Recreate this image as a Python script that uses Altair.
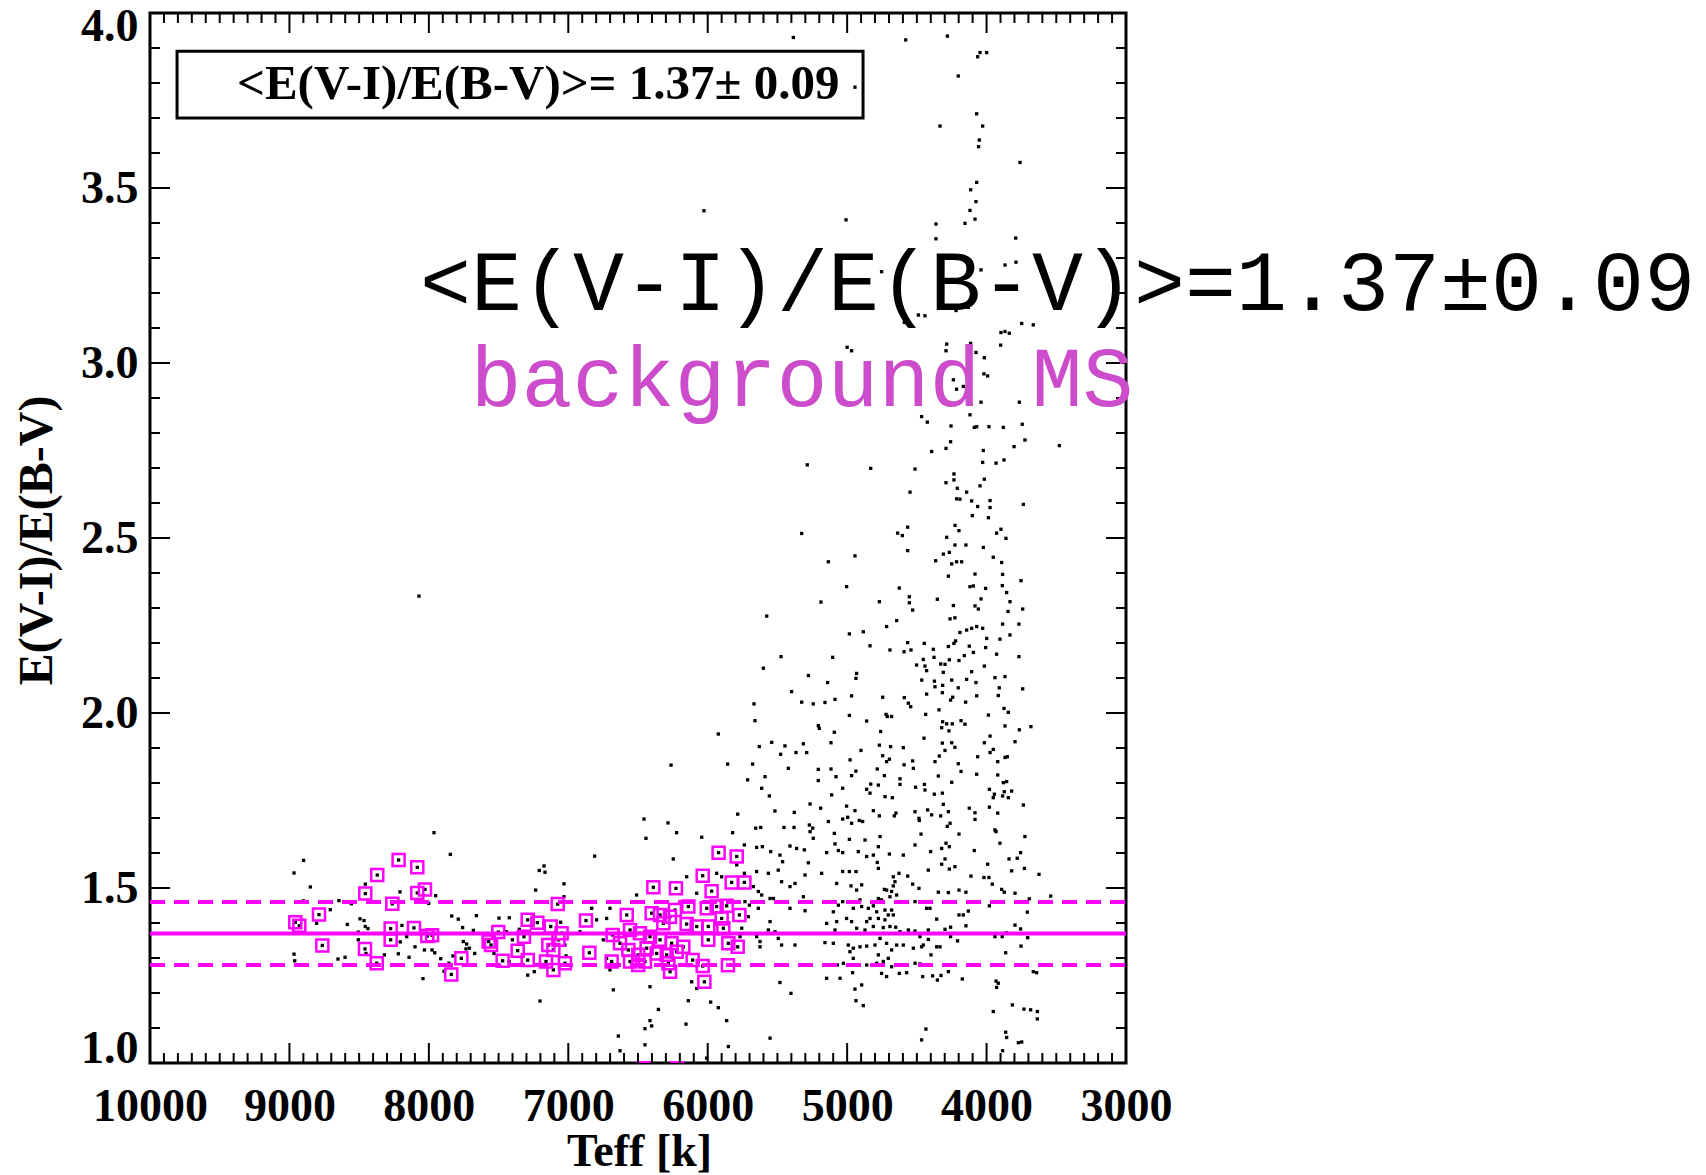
import altair as alt
import pandas as pd

# ---------------- data ----------------
# background MS stars (magenta squares): [Teff, E(V-I)/E(B-V)]
ms_hot = [
    [8958, 1.402], [8929, 1.392], [8788, 1.424], [8764, 1.336], [8456, 1.484], [8370, 1.537],
    [8217, 1.580], [8083, 1.559], [8262, 1.455], [8083, 1.486], [8028, 1.496], [8274, 1.384],
    [8274, 1.352], [8107, 1.386], [8458, 1.326], [8374, 1.285], [8011, 1.363], [7977, 1.365],
    [7839, 1.253], [7767, 1.299], [7571, 1.347], [7554, 1.337], [7502, 1.374], [7471, 1.292],
    [7363, 1.321], [7318, 1.361], [7291, 1.409], [7222, 1.401], [7291, 1.294], [7076, 1.454],
    [7126, 1.390], [7048, 1.371], [7143, 1.337], [7107, 1.323], [7160, 1.290], [7107, 1.266],
    [7024, 1.285], [7071, 1.352],
]
ms_cool = [
    [6873, 1.407], [6849, 1.315], [6689, 1.290], [6682, 1.366], [6581, 1.423], [6390, 1.502],
    [6228, 1.499], [5922, 1.601], [5792, 1.590], [6036, 1.535], [5828, 1.516], [5737, 1.516],
    [5972, 1.491], [6139, 1.447], [6007, 1.442], [5936, 1.447], [5864, 1.449], [5773, 1.423],
    [6402, 1.428], [6342, 1.423], [6271, 1.418], [6235, 1.437], [6318, 1.399], [6151, 1.397],
    [6079, 1.390], [5996, 1.390], [5900, 1.413], [5888, 1.385], [6557, 1.380], [6486, 1.371],
    [6414, 1.361], [6342, 1.352], [6259, 1.342], [6175, 1.332], [5996, 1.352], [5852, 1.342],
    [5785, 1.332], [6629, 1.342], [6569, 1.323], [6498, 1.309], [6438, 1.328], [6366, 1.313],
    [6294, 1.309], [6223, 1.318], [6557, 1.290], [6498, 1.280], [6450, 1.290], [6282, 1.285],
    [6270, 1.261], [6108, 1.294], [6036, 1.277], [5855, 1.279], [6024, 1.232],
    [6462, 0.985], [6218, 0.985],
]

# all other stars (black dots)
stars_hot = [
    [7963, 1.658], [7846, 1.596], [8898, 1.579], [8967, 1.543], [8850, 1.503], [8456, 1.511],
    [8207, 1.489], [7951, 1.478], [8001, 1.456], [8900, 1.463], [8645, 1.464], [8556, 1.455],
    [8707, 1.438], [8805, 1.399], [8585, 1.396], [8494, 1.412], [8465, 1.407], [8456, 1.390],
    [8437, 1.384], [8506, 1.374], [8506, 1.352], [8193, 1.393], [8159, 1.361], [8205, 1.346],
    [8099, 1.332], [8032, 1.323], [7977, 1.323], [7958, 1.315], [8219, 1.312], [8142, 1.302],
    [8319, 1.309], [8451, 1.313], [8967, 1.311], [8962, 1.292], [8652, 1.297], [8601, 1.302],
    [8042, 1.241], [7915, 1.298], [7856, 1.285], [7827, 1.306], [7891, 1.262], [7836, 1.420],
    [7789, 1.411], [7758, 1.387], [7681, 1.379], [7659, 1.421], [7753, 1.347], [7729, 1.340],
    [7710, 1.328], [7734, 1.326], [7671, 1.313], [7497, 1.414], [7423, 1.415], [7444, 1.375],
    [7401, 1.352], [7351, 1.382], [7533, 1.313], [7425, 1.290], [7291, 1.251], [7244, 1.261],
    [7203, 1.177], [7234, 1.494], [7208, 1.550], [7174, 1.563], [7167, 1.545], [7031, 1.512],
    [7031, 1.475], [7055, 1.402], [7024, 1.337], [7016, 1.306], [8071, 2.334],
]
stars_mid = [
    [6443, 1.642], [6223, 1.658], [6043, 1.645], [5821, 1.658], [6811, 1.591], [6247, 1.583],
    [5737, 1.623], [5649, 1.616], [5608, 1.618], [5548, 1.604], [5482, 1.594], [5463, 1.575],
    [5410, 1.620], [5362, 1.613], [5307, 1.609], [5278, 1.572], [5266, 1.661], [5243, 1.642],
    [5147, 1.601], [5092, 1.656], [5087, 1.626], [5063, 1.607], [5032, 1.601], [4984, 1.639],
    [4920, 1.604], [6151, 1.532], [5936, 1.542], [5900, 1.532], [5737, 1.542], [5649, 1.547],
    [5565, 1.542], [5494, 1.551], [5470, 1.518], [5410, 1.504], [5374, 1.513], [5302, 1.537],
    [5183, 1.542], [5075, 1.513], [5032, 1.547], [4984, 1.547], [4936, 1.547], [4972, 1.506],
    [4932, 1.494], [5637, 1.490], [5613, 1.480], [5673, 1.504], [5792, 1.566], [6079, 1.485],
    [6510, 1.480], [5733, 1.461], [5637, 1.442], [5553, 1.470], [5529, 1.470], [5410, 1.442],
    [5314, 1.475], [5302, 1.435], [5099, 1.432], [5063, 1.451], [5032, 1.461], [4956, 1.442],
    [4908, 1.466], [5075, 1.404], [5004, 1.413], [4968, 1.404], [4932, 1.385], [5147, 1.399],
    [5087, 1.380], [5553, 1.404], [5565, 1.380], [5517, 1.375], [5649, 1.361], [5625, 1.347],
    [5494, 1.356], [5470, 1.337], [5374, 1.337], [5625, 1.332], [5159, 1.344], [5099, 1.342],
    [4992, 1.337], [4956, 1.328], [4908, 1.332], [4980, 1.318], [4956, 1.299], [5070, 1.280],
    [5027, 1.285], [4961, 1.258], [5147, 1.242], [5051, 1.242], [5482, 1.230], [5403, 1.199],
    [4944, 1.211], [4937, 1.178], [5768, 1.361], [5756, 1.385], [5709, 1.418], [5701, 1.451],
    [6832, 1.442], [6725, 1.413], [6701, 1.442], [6797, 1.409], [6916, 1.375], [6749, 1.352],
    [6725, 1.299], [6701, 1.266], [6677, 1.209], [6414, 1.218], [6354, 1.153], [6139, 1.178],
    [5979, 1.174], [5924, 1.158], [5864, 1.121], [6156, 1.111], [6414, 1.121], [6402, 1.106],
    [6450, 1.098], [6641, 1.077], [6629, 1.035], [6450, 1.052], [5553, 1.071], [5852, 1.047],
    [6008, 1.014], [6115, 1.232], [6079, 1.213], [6263, 1.851], [6457, 1.697], [6285, 1.686],
]
stars_cool = [
    [4872, 1.637], [4764, 1.647], [4860, 1.590], [4812, 1.594], [4784, 1.573], [4776, 1.556],
    [4776, 1.618], [4697, 1.597], [4597, 1.594], [4513, 1.623], [4470, 1.654], [4401, 1.604],
    [4322, 1.613], [4291, 1.628], [4267, 1.618], [4298, 1.583], [4322, 1.568], [4267, 1.554],
    [4227, 1.561], [4198, 1.654], [4088, 1.607], [3992, 1.568], [3932, 1.661], [3904, 1.628],
    [3839, 1.583], [3780, 1.585], [3756, 1.601], [3725, 1.647], [3729, 1.556], [3624, 1.539],
    [3820, 1.549], [4418, 1.551], [4669, 1.532], [4628, 1.542], [4566, 1.534], [4657, 1.518],
    [4530, 1.511], [4485, 1.499], [4669, 1.506], [4681, 1.490], [4645, 1.480], [4717, 1.494],
    [4733, 1.496], [4896, 1.509], [4776, 1.470], [4753, 1.466], [4693, 1.475], [4597, 1.461],
    [4513, 1.461], [4406, 1.442], [4430, 1.442], [4346, 1.488], [4274, 1.487], [4198, 1.494],
    [4148, 1.488], [4019, 1.530], [3983, 1.530], [3959, 1.511], [4112, 1.534], [3892, 1.496],
    [3873, 1.488], [3796, 1.485], [3694, 1.469], [3540, 1.477], [4896, 1.447], [4848, 1.442],
    [4812, 1.449], [4788, 1.432], [4729, 1.437], [4681, 1.437], [4705, 1.423], [4776, 1.413],
    [4729, 1.409], [4669, 1.423], [4860, 1.404], [4836, 1.413], [4812, 1.390], [4872, 1.380],
    [4741, 1.387], [4693, 1.390], [4652, 1.388], [4621, 1.375], [4561, 1.380], [4513, 1.377],
    [4478, 1.361], [4418, 1.380], [4358, 1.411], [4298, 1.382], [4258, 1.388], [4198, 1.423],
    [4167, 1.423], [4131, 1.434], [4148, 1.392], [4258, 1.361], [4208, 1.349], [4418, 1.353],
    [4454, 1.337], [4525, 1.328], [4597, 1.337], [4645, 1.337], [4681, 1.323], [4717, 1.342],
    [4764, 1.356], [4800, 1.337], [4860, 1.334], [4776, 1.309], [4705, 1.299], [4741, 1.290],
    [4788, 1.285], [4860, 1.280], [4681, 1.275], [4753, 1.256], [4717, 1.247], [4626, 1.256],
    [4573, 1.258], [4513, 1.285], [4478, 1.283], [4466, 1.332], [4399, 1.309], [4358, 1.332],
    [4334, 1.332], [4458, 1.247], [4387, 1.249], [4353, 1.237], [4327, 1.250], [4274, 1.261],
    [4174, 1.240], [4896, 1.223], [4884, 1.164], [3940, 1.361], [3888, 1.361], [3856, 1.372],
    [3863, 1.315], [3796, 1.394], [3756, 1.383], [3705, 1.358], [3753, 1.334], [3712, 1.280],
    [3665, 1.261], [3641, 1.258], [3980, 1.449], [3708, 1.431], [3932, 1.234], [3916, 1.228],
    [3928, 1.216], [3952, 1.147], [3815, 1.166], [3732, 1.154], [3684, 1.152], [3636, 1.147],
    [3636, 1.126], [4466, 1.066], [4435, 1.097], [3863, 1.088], [3856, 1.073], [3772, 1.058],
    [3748, 1.060], [3885, 1.035],
]
giants_low = [
    [5135, 2.432], [4365, 2.435], [4250, 2.426], [4215, 2.432], [4179, 2.432], [3892, 2.430],
    [4274, 2.391], [4083, 2.397], [3885, 2.396], [3753, 2.378], [5004, 2.361], [4626, 2.357],
    [4119, 2.361], [4095, 2.363], [4007, 2.356], [3887, 2.364], [3856, 2.344], [4554, 2.332],
    [4554, 2.315], [4353, 2.325], [4040, 2.326], [3832, 2.318], [5188, 2.317], [4769, 2.318],
    [4530, 2.294], [4238, 2.307], [4083, 2.306], [4059, 2.297], [3846, 2.290], [3741, 2.297],
    [5577, 2.277], [4262, 2.269], [4227, 2.272], [4645, 2.264], [3885, 2.254], [3768, 2.254],
    [4717, 2.247], [4984, 2.226], [4884, 2.232], [4191, 2.230], [4143, 2.237], [4107, 2.242],
    [4071, 2.247], [4028, 2.242], [3999, 2.213], [3904, 2.211], [3832, 2.223], [4836, 2.192],
    [4693, 2.180], [4592, 2.175], [4542, 2.180], [4566, 2.201], [4447, 2.199], [4382, 2.182],
    [4274, 2.190], [4234, 2.199], [4222, 2.206], [4124, 2.191], [4095, 2.173], [4007, 2.187],
    [3928, 2.168], [3768, 2.161], [5474, 2.161], [5104, 2.159], [4454, 2.153], [4377, 2.159],
    [4329, 2.140], [4298, 2.139], [4267, 2.152], [4198, 2.150], [4160, 2.164], [4502, 2.137],
    [4442, 2.134], [4430, 2.121], [4016, 2.134], [5601, 2.128], [5278, 2.107], [4932, 2.113],
    [4937, 2.099], [4310, 2.116], [4107, 2.118], [4465, 2.094], [4374, 2.091], [4370, 2.075],
    [4315, 2.079], [4250, 2.094], [4203, 2.072], [4143, 2.096], [4076, 2.087], [3940, 2.101],
    [3868, 2.104], [3909, 2.072], [3741, 2.069], [5140, 2.087], [5398, 2.061], [5326, 2.031],
    [5243, 2.026], [5159, 2.030], [5087, 2.039], [4968, 2.049], [4745, 2.045], [4590, 2.044],
    [4561, 2.028], [4544, 2.018], [4430, 2.054], [4317, 2.058], [4258, 2.037], [4243, 2.045],
    [4150, 2.031], [4071, 2.049], [3916, 2.050], [5668, 2.026], [5661, 1.978], [5924, 1.940],
    [5207, 1.964], [5200, 1.956], [5092, 1.945], [4984, 1.993], [4860, 1.977], [4721, 1.996],
    [4712, 1.990], [4681, 1.990], [4437, 1.996], [4341, 2.009], [4315, 1.975], [4286, 1.969],
    [4246, 1.969], [4270, 1.949], [4322, 1.958], [4183, 1.978], [4155, 1.968], [3987, 1.994],
    [3875, 2.013], [3844, 2.002], [3868, 1.963], [3765, 1.952], [3682, 1.961], [4760, 1.947],
    [5630, 1.904], [5541, 1.916], [5446, 1.906], [5477, 1.882], [5367, 1.887], [5314, 1.912],
    [5290, 1.887], [5116, 1.915], [4901, 1.893], [4769, 1.908], [4688, 1.904], [4597, 1.901],
    [4745, 1.878], [4697, 1.868], [4717, 1.861], [4592, 1.852], [4530, 1.863], [4525, 1.842],
    [4449, 1.928], [4317, 1.914], [4298, 1.893], [4250, 1.915], [4227, 1.902], [4339, 1.877],
    [4370, 1.861], [4203, 1.855], [4016, 1.915], [3975, 1.934], [4064, 1.875], [3952, 1.896],
    [3975, 1.887], [3920, 1.861], [3868, 1.873], [3851, 1.875], [3796, 1.918], [5857, 1.854],
    [5678, 1.854], [5589, 1.818], [5714, 1.809], [5613, 1.785], [5558, 1.763], [5422, 1.842],
    [5207, 1.839], [5116, 1.840], [5080, 1.818], [5207, 1.807], [4979, 1.866], [4968, 1.821],
    [4937, 1.834], [5032, 1.785], [5111, 1.766], [4784, 1.840], [4733, 1.821], [4860, 1.782],
    [4836, 1.771], [4831, 1.797], [4776, 1.794], [4728, 1.761], [4676, 1.758], [4621, 1.812],
    [4621, 1.796], [4509, 1.788], [4446, 1.796], [4442, 1.780], [4375, 1.768], [4317, 1.771],
    [4346, 1.820], [4250, 1.802], [4183, 1.833], [4071, 1.825], [3920, 1.823], [3980, 1.782],
    [3944, 1.768], [3952, 1.758], [3880, 1.801], [3856, 1.804], [3873, 1.775], [3885, 1.763],
    [3844, 1.758], [3820, 1.777], [3736, 1.737], [5785, 1.711], [5656, 1.671], [5620, 1.673],
    [5518, 1.720], [5379, 1.716], [5453, 1.673], [5381, 1.673], [5266, 1.740], [5190, 1.728],
    [5271, 1.680], [5247, 1.671], [5135, 1.690], [5032, 1.697], [5004, 1.734], [4996, 1.702],
    [4968, 1.685], [4944, 1.721], [4913, 1.693], [4889, 1.690], [4812, 1.721], [4769, 1.706],
    [4662, 1.706], [4650, 1.714], [4513, 1.718], [4485, 1.699], [4482, 1.693], [4423, 1.723],
    [4394, 1.709], [4329, 1.706], [4274, 1.718], [4310, 1.739], [4282, 1.676], [4262, 1.685],
    [4124, 1.728], [4083, 1.715], [4083, 1.696], [3980, 1.731], [3920, 1.714], [3940, 1.666],
]
giants_high = [
    [4590, 3.116], [4489, 3.137], [4442, 3.135], [4219, 3.150], [4172, 3.159], [4131, 3.159],
    [4968, 3.035], [4286, 3.054], [4291, 3.035], [4114, 3.056], [4076, 3.030], [4016, 3.015],
    [3897, 3.087], [3868, 3.090], [3837, 3.085], [3899, 3.051], [3748, 3.113], [3665, 3.109],
    [4019, 2.969], [3992, 2.963], [4238, 2.952], [4215, 2.925], [4167, 2.933], [4040, 2.888],
    [3765, 2.888], [4119, 2.852], [4466, 2.847], [4425, 2.831], [4255, 2.820], [4088, 2.816],
    [4071, 2.818], [3983, 2.818], [3880, 2.816], [3744, 2.825], [3725, 2.780], [3803, 2.761],
    [3478, 2.764], [4258, 2.775], [4291, 2.756], [4394, 2.747], [4023, 2.750], [4028, 2.716],
    [3932, 2.714], [3875, 2.723], [4831, 2.699], [4513, 2.697], [4234, 2.683], [4234, 2.666],
    [4291, 2.658], [4016, 2.668], [4047, 2.649], [4210, 2.642], [4143, 2.631], [4549, 2.631],
    [4215, 2.612], [4191, 2.611], [4107, 2.606], [4064, 2.590], [3975, 2.607], [3975, 2.587],
    [3736, 2.596], [4102, 2.564], [3987, 2.558], [4226, 2.536], [4198, 2.521], [4566, 2.531],
    [4638, 2.514], [4604, 2.507], [3928, 2.514], [3897, 2.525], [3861, 2.499], [4286, 2.502],
    [4227, 2.480], [4148, 2.480], [4023, 2.473], [4566, 2.464], [4944, 2.449], [4310, 2.454],
    [4267, 2.459], [3952, 2.445], [4580, 3.923], [4281, 3.934], [4064, 3.875], [4047, 3.887],
    [3999, 3.887], [4203, 3.820], [4944, 3.788], [4071, 3.712], [4334, 3.677], [4028, 3.677],
    [4052, 3.637], [4057, 3.618], [3760, 3.573], [4071, 3.516], [4114, 3.495], [4076, 3.461],
    [4119, 3.436], [4083, 3.411], [4155, 3.399], [4363, 3.397], [4363, 3.355], [3791, 3.357],
    [3868, 3.280], [3789, 3.288], [4040, 3.266], [4753, 3.261], [5386, 3.930], [6027, 3.435],
    [5008, 3.409], [5000, 3.045], [5286, 2.709], [5326, 2.513],
]

mean_ratio = 1.37
sigma_ratio = 0.09
legend_label = "<E(V-I)/E(B-V)>= 1.37\u00b1 0.09"
big_label = "<E(V-I)/E(B-V)>=1.37\u00b10.09"
ms_label = "background MS"

x_major = [10000, 9000, 8000, 7000, 6000, 5000, 4000, 3000]
y_major = [1.0, 1.5, 2.0, 2.5, 3.0, 3.5, 4.0]
x_minor = [t for t in range(3000, 10001, 100) if t % 1000 != 0]
y_minor = [round(1.0 + 0.1 * i, 1) for i in range(31) if i % 5 != 0]

# ---------------- layout ----------------
W, H = 976, 1050
MAJ, MIN = 20, 10
MAGENTA = "#FF00FF"
SERIF = "Liberation Serif"
MONO = "Liberation Mono"

xs = alt.Scale(domain=[10000, 3000], nice=False, zero=False)
ys = alt.Scale(domain=[1.0, 4.0], nice=False, zero=False)

x_axis = alt.Axis(values=x_major, format="d", ticks=False, tickSize=0, domain=False, grid=False,
                  labelFont=SERIF, labelFontWeight="bold", labelFontSize=46, labelColor="black",
                  labelPadding=21, labelFlush=False, labelOverlap=False,
                  title="Teff [k]", titleFont=SERIF, titleFontWeight="bold", titleFontSize=46,
                  titleColor="black", titleX=489, titleY=102, titleBaseline="alphabetic")
y_axis = alt.Axis(values=y_major, format=".1f", ticks=False, tickSize=0, domain=False, grid=False,
                  labelFont=SERIF, labelFontWeight="bold", labelFontSize=46, labelColor="black",
                  labelPadding=12, labelFlush=True, labelFlushOffset=9, labelOverlap=False,
                  title="E(V-I)/E(B-V)", titleFont=SERIF, titleFontWeight="bold", titleFontSize=48,
                  titleColor="black", titleX=-99, titleY=527, titleAngle=270,
                  titleBaseline="alphabetic")

def X(field):
    return alt.X(f"{field}:Q", scale=xs, axis=x_axis)

def Y(field):
    return alt.Y(f"{field}:Q", scale=ys, axis=y_axis)

stars = pd.DataFrame(stars_hot + stars_mid + stars_cool + giants_low + giants_high +
                     ms_hot + ms_cool, columns=["teff", "ratio"])
ms = pd.DataFrame(ms_hot + ms_cool, columns=["teff", "ratio"])

dots = alt.Chart(stars).mark_square(size=11, color="black", opacity=1, clip=True).encode(
    x=X("teff"), y=Y("ratio"))
squares = alt.Chart(ms).mark_point(shape="square", filled=False, size=144, strokeWidth=2.5,
                                    color=MAGENTA, opacity=1, clip=True).encode(
    x=X("teff"), y=Y("ratio"))

solid = alt.Chart(pd.DataFrame({"r": [mean_ratio]})).mark_rule(
    color=MAGENTA, strokeWidth=4).encode(y=Y("r"), x=alt.value(0), x2=alt.value(W))
dashed = alt.Chart(pd.DataFrame({"r": [mean_ratio - sigma_ratio, mean_ratio + sigma_ratio]})).mark_rule(
    color=MAGENTA, strokeWidth=4, strokeDash=[15, 9]).encode(
    y=Y("r"), x=alt.value(0), x2=alt.value(W))

def xticks(vals, ln):
    d = pd.DataFrame({"t": vals})
    b = alt.Chart(d).mark_rule(color="black", strokeWidth=2).encode(
        x=X("t"), y=alt.value(H), y2=alt.value(H - ln))
    t = alt.Chart(d).mark_rule(color="black", strokeWidth=2).encode(
        x=X("t"), y=alt.value(0), y2=alt.value(ln))
    return [b, t]

def yticks(vals, ln):
    d = pd.DataFrame({"t": vals})
    l = alt.Chart(d).mark_rule(color="black", strokeWidth=2).encode(
        y=Y("t"), x=alt.value(0), x2=alt.value(ln))
    r = alt.Chart(d).mark_rule(color="black", strokeWidth=2).encode(
        y=Y("t"), x=alt.value(W), x2=alt.value(W - ln))
    return [l, r]

ticks = xticks(x_major, MAJ) + xticks(x_minor, MIN) + yticks(y_major, MAJ) + yticks(y_minor, MIN)

box = alt.Chart(pd.DataFrame({"t1": [9806], "t2": [4886], "r1": [3.891], "r2": [3.700]})).mark_rect(
    fillOpacity=0, stroke="black", strokeWidth=3).encode(
    x=X("t1"), x2="t2", y=Y("r1"), y2="r2")
legend_text = alt.Chart(pd.DataFrame({"t": [9376], "r": [3.797], "s": [legend_label]})).mark_text(
    font=SERIF, fontWeight="bold", fontSize=49, align="left", baseline="middle", color="black").encode(
    x=X("t"), y=Y("r"), text="s:N")

big_text = alt.Chart(pd.DataFrame({"t": [8064], "r": [3.151], "s": [big_label]})).mark_text(
    font=MONO, fontSize=85, align="left", baseline="alphabetic", color="black").encode(
    x=X("t"), y=Y("r"), text="s:N")
ms_text = alt.Chart(pd.DataFrame({"t": [7702], "r": [2.877], "s": [ms_label]})).mark_text(
    font=MONO, fontSize=85, align="left", baseline="alphabetic", color="#CC4CCC").encode(
    x=X("t"), y=Y("r"), text="s:N")

chart = alt.layer(dots, squares, solid, dashed, *ticks, box, legend_text, big_text, ms_text).properties(
    width=W, height=H,
    autosize=alt.AutoSizeParams(type="none"),
    padding={"left": 150, "top": 13, "right": 580, "bottom": 112},
    background="white",
).configure_view(stroke="black", strokeWidth=3)

chart.save("out.html", embed_options={"renderer": "svg", "actions": False})
